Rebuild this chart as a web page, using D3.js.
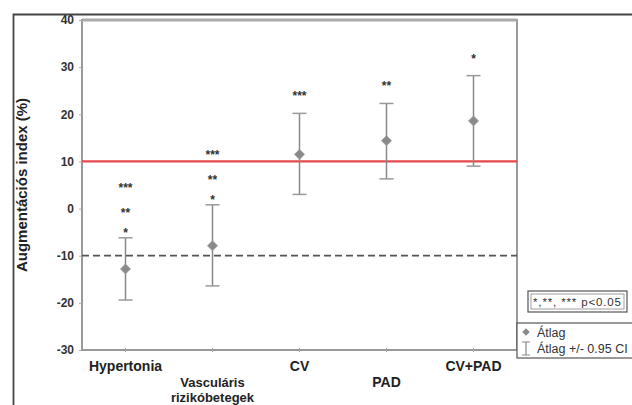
<!DOCTYPE html>
<html>
<head>
<meta charset="utf-8">
<script src="https://cdn.jsdelivr.net/npm/d3@7"></script>
<style>
  html, body { margin: 0; padding: 0; background: #fff; }
  svg { display: block; font-family: "Liberation Sans", Arial, sans-serif; }
</style>
</head>
<body>
<svg id="chart" width="632" height="405"></svg>
<script>
// Augmentation index by patient group: mean and 95% confidence interval
const categories = ["Hypertonia", "Vasculáris rizikóbetegek", "CV", "PAD", "CV+PAD"];
const means = [-12.8, -7.9, 11.5, 14.4, 18.6];
const ciLower = [-19.4, -16.4, 3.0, 6.3, 9.0];
const ciUpper = [-6.2, 0.8, 20.2, 22.3, 28.2];
const significance = [["*", "**", "***"], ["*", "**", "***"], ["***"], ["**"], ["*"]];
const yTicks = [-30, -20, -10, 0, 10, 20, 30, 40];
const refHigh = 10;
const refLow = -10;
const yLabel = "Augmentációs index (%)";
const legendSig = "*,**, *** p<0.05";
const legendMean = "Átlag";
const legendCI = "Átlag +/- 0.95 CI";

const svg = d3.select("#chart");
const plot = { left: 82, top: 20, right: 517, bottom: 350 };

const x = d3.scaleBand().domain(categories).range([plot.left, plot.right]);
const y = d3.scaleLinear().domain([-30, 40]).range([plot.bottom, plot.top]);
const cx = c => x(c) + x.bandwidth() / 2;

// outer frame (top and left edges)
svg.append("path")
  .attr("d", `M13.5,405 V14.5 H632`)
  .attr("fill", "none").attr("stroke", "#444").attr("stroke-width", 1.8);

// plot box
svg.append("rect")
  .attr("x", plot.left).attr("y", plot.top)
  .attr("width", plot.right - plot.left).attr("height", plot.bottom - plot.top)
  .attr("fill", "#fff").attr("stroke", "#999").attr("stroke-width", 2);
svg.append("line")
  .attr("x1", plot.left).attr("x2", plot.right)
  .attr("y1", plot.top).attr("y2", plot.top)
  .attr("stroke", "#aaa").attr("stroke-width", 3);

// y axis
const yAxis = d3.axisLeft(y).tickValues(yTicks).tickSize(3).tickPadding(5)
  .tickFormat(d => String(d));
const gy = svg.append("g").attr("transform", `translate(${plot.left},0)`).call(yAxis);
gy.select(".domain").remove();
gy.selectAll(".tick line").attr("stroke", "#aaa");
gy.selectAll(".tick text")
  .attr("font-size", 12).attr("font-weight", "bold").attr("fill", "#333");

// x axis ticks and staggered category labels
const xAxis = d3.axisBottom(x).tickSize(4).tickFormat("");
const gx = svg.append("g").attr("transform", `translate(0,${plot.bottom})`).call(xAxis);
gx.select(".domain").remove();
gx.selectAll(".tick line").attr("stroke", "#aaa").attr("transform", "translate(0,-2)");

const catLabels = svg.append("g");
categories.forEach((c, i) => {
  const words = i % 2 === 1 ? c.split(" ") : [c];
  const twoLine = words.length > 1;
  const t = catLabels.append("text")
    .attr("x", cx(c)).attr("y", i % 2 === 1 ? 387 : 371)
    .attr("text-anchor", "middle").attr("font-size", twoLine ? 13 : 14).attr("font-weight", "bold")
    .attr("fill", "#222");
  words.forEach((w, k) => {
    t.append("tspan").attr("x", cx(c)).attr("dy", k === 0 ? 0 : 15).text(w);
  });
});

// y axis title
svg.append("text")
  .attr("transform", `translate(27,185) rotate(-90)`)
  .attr("text-anchor", "middle").attr("font-size", 15).attr("font-weight", "bold")
  .attr("fill", "#222").text(yLabel);

// reference lines
svg.append("line")
  .attr("x1", plot.left).attr("x2", plot.right)
  .attr("y1", y(refHigh)).attr("y2", y(refHigh))
  .attr("stroke", "#e5474d").attr("stroke-width", 2.2);
svg.append("line")
  .attr("x1", plot.left).attr("x2", plot.right)
  .attr("y1", y(refLow)).attr("y2", y(refLow))
  .attr("stroke", "#555").attr("stroke-width", 1.8).attr("stroke-dasharray", "7,4");

// error bars
const bars = svg.append("g").selectAll("g").data(categories).join("g");
bars.append("line")
  .attr("x1", d => cx(d)).attr("x2", d => cx(d))
  .attr("y1", (d, i) => y(ciUpper[i])).attr("y2", (d, i) => y(ciLower[i]))
  .attr("stroke", "#888").attr("stroke-width", 1.5);
[ciUpper, ciLower].forEach(arr => {
  bars.append("line")
    .attr("x1", d => cx(d) - 7).attr("x2", d => cx(d) + 7)
    .attr("y1", (d, i) => y(arr[i])).attr("y2", (d, i) => y(arr[i]))
    .attr("stroke", "#999").attr("stroke-width", 1.5);
});

// mean markers (square rotated into a diamond)
const diamond = d3.symbol().type(d3.symbolSquare).size(50);
bars.append("path")
  .attr("d", diamond)
  .attr("transform", (d, i) => `translate(${cx(d)},${y(means[i])}) rotate(45)`)
  .attr("fill", "#8a8a8a").attr("stroke", "#9a9a9a").attr("stroke-width", 0.8);

// significance markers stacked above the upper CI
const stackOffsets = { 1: [20], 3: [8, 28, 53] };
categories.forEach((c, i) => {
  const marks = significance[i];
  const offs = stackOffsets[marks.length];
  marks.forEach((m, k) => {
    svg.append("text")
      .attr("x", cx(c)).attr("y", y(ciUpper[i]) - offs[k] + 7)
      .attr("text-anchor", "middle").attr("font-size", 12).attr("font-weight", "bold")
      .attr("fill", "#333").text(m);
  });
});

// legend: significance box (double border)
svg.append("rect").attr("x", 528).attr("y", 291).attr("width", 99).attr("height", 21)
  .attr("fill", "#fff").attr("stroke", "#555").attr("stroke-width", 1.2);
svg.append("rect").attr("x", 531).attr("y", 294).attr("width", 93).attr("height", 15)
  .attr("fill", "none").attr("stroke", "#888").attr("stroke-width", 0.8);
svg.append("text").attr("x", 533).attr("y", 306)
  .attr("font-size", 11.5).attr("fill", "#333")
  .attr("textLength", 88).attr("lengthAdjust", "spacing").text(legendSig);

// legend: mean and CI
svg.append("rect").attr("x", 517).attr("y", 323).attr("width", 130).attr("height", 35)
  .attr("fill", "#fff").attr("stroke", "#555").attr("stroke-width", 1.2);
svg.append("path").attr("d", d3.symbol().type(d3.symbolSquare).size(28))
  .attr("transform", "translate(526,332) rotate(45)").attr("fill", "#8a8a8a");
svg.append("text").attr("x", 537).attr("y", 337)
  .attr("font-size", 12.5).attr("fill", "#333").text(legendMean);
svg.append("path").attr("d", "M522,342 H530 M526,342 V355 M522,355 H530")
  .attr("stroke", "#888").attr("stroke-width", 1.2).attr("fill", "none");
svg.append("text").attr("x", 537).attr("y", 353)
  .attr("font-size", 12.5).attr("fill", "#333").text(legendCI);
</script>
</body>
</html>
